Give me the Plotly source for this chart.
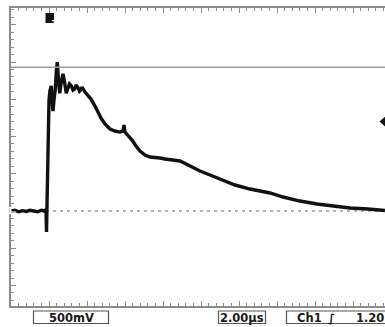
import plotly.graph_objects as go

# Captured waveform: time in microseconds (trigger at 0), amplitude in volts
time_us = [
    -2.0, -1.8, -1.6, -1.4, -1.2, -1.0, -0.8, -0.6, -0.4, -0.25, -0.16,
    -0.13, -0.105, -0.053, 0.0, 0.053, 0.121, 0.158, 0.21, 0.263, 0.332,
    0.384, 0.437, 0.5, 0.563, 0.647, 0.737, 0.826, 0.91, 1.0, 1.079, 1.174,
    1.263, 1.353, 1.421, 1.526, 1.605, 1.7, 1.737, 1.895, 2.053, 2.211, 2.421,
    2.579, 2.737, 2.947, 3.211, 3.474, 3.737, 3.895, 3.947, 4.0, 4.158, 4.368,
    4.579, 4.789, 5.053, 5.316, 5.842, 6.105, 6.895, 7.42, 7.947, 8.474, 8.895,
    9.263, 9.79, 10.58, 11.63, 12.32, 13.21, 14.1, 15.05, 15.84, 16.79, 17.68,
]
volts = [
    0.0, 0.01, -0.01, 0.005, -0.005, 0.01, 0.0, -0.01, 0.01, 0.0, 0.02,
    -0.28, 0.08, 0.82, 1.49, 1.62, 1.68, 1.49, 1.34, 1.49, 1.64,
    1.87, 2.0, 1.76, 1.58, 1.73, 1.84, 1.72, 1.58, 1.65, 1.705, 1.68,
    1.624, 1.64, 1.691, 1.655, 1.611, 1.64, 1.664, 1.597, 1.557, 1.503, 1.409,
    1.329, 1.248, 1.168, 1.101, 1.074, 1.06, 1.074, 1.154, 1.06, 1.02, 0.953,
    0.872, 0.805, 0.752, 0.725, 0.711, 0.698, 0.671, 0.604, 0.537, 0.483, 0.443,
    0.403, 0.349, 0.295, 0.242, 0.188, 0.134, 0.094, 0.067, 0.04, 0.027, 0.007,
]

# Scope settings
volts_per_div = 0.5
time_per_div = 2.0
cursor_level = 1.93
trigger_level = 1.20
readout_volts = "500mV"
readout_time = "2.00µs"
readout_channel = "Ch1"
readout_slope = "∫"
readout_trigger = "1.20 V"

W, H = 385, 327
L, R, T, B = 11, 0, 8, 21
PW, PH = W - L - R, H - T - B

x_range = [-2.0, -2.0 + PW / 19.0]
y_range = [-1.275, 2.725]


def px(x):
    return (x - L) / PW


def py(y):
    return (H - B - y) / PH


fig = go.Figure()

fig.add_trace(go.Scatter(
    x=time_us, y=volts, mode="lines",
    line=dict(color="#111111", width=3.4),
    hoverinfo="skip", showlegend=False,
))

gray = "#8c8c8c"
# Cursor line and dotted ground reference
fig.add_hline(y=cursor_level, line=dict(color="#9a9a9a", width=1.5))
fig.add_hline(y=0, line=dict(color="#9a9a9a", width=1.5, dash="3px,4px"), layer="below")

shapes = []
# Ground marker on the left edge
shapes.append(dict(type="rect", xref="paper", yref="y",
                   x0=px(0), x1=px(11), y0=-0.085, y1=0.085,
                   fillcolor="#111111", line=dict(width=0)))
# Trigger position marker at the top
shapes.append(dict(type="path", xref="paper", yref="paper",
                   path=f"M {px(45)} {py(7.5)} L {px(54.5)} {py(7.5)} L {px(49.7)} {py(12)} Z",
                   fillcolor="#111111", line=dict(width=0)))
shapes.append(dict(type="rect", xref="paper", yref="paper",
                   x0=px(45.5), x1=px(54), y0=py(23), y1=py(13),
                   fillcolor="#111111", line=dict(width=0)))
# Trigger level arrow on the right edge
shapes.append(dict(type="path", xref="paper", yref="y",
                   path=f"M {px(379.5)} {trigger_level} L {px(385)} {trigger_level + 0.065} L {px(385)} {trigger_level - 0.065} Z",
                   fillcolor="#111111", line=dict(width=0)))
# Readout boxes
for x0, x1 in [(33.5, 108.5), (218.5, 265.5), (286.5, 392)]:
    shapes.append(dict(type="rect", xref="paper", yref="paper",
                       x0=px(x0), x1=px(x1), y0=py(323.5), y1=py(311),
                       fillcolor="rgba(0,0,0,0)", line=dict(color="#555555", width=1.2)))
fig.update_layout(shapes=shapes)

font = dict(family="DejaVu Sans", size=11.5, color="#1a1a1a", weight="bold")
ann = [
    dict(x=px(71), y=py(317.5), text=readout_volts, xanchor="center"),
    dict(x=px(242), y=py(317.5), text=readout_time, xanchor="center"),
    dict(x=px(295), y=py(317.5), text=readout_channel, xanchor="left"),
    dict(x=px(331), y=py(317.5), text=readout_slope, xanchor="center"),
    dict(x=px(354), y=py(317.5), text=readout_trigger, xanchor="left"),
]
for a in ann:
    a.update(xref="paper", yref="paper", showarrow=False, font=font, yanchor="middle")
ann.append(dict(xref="paper", yref="y", x=px(4.5), y=0, text="<b>1</b>", showarrow=False,
                font=dict(family="DejaVu Sans", size=9, color="white")))
ann.append(dict(xref="paper", yref="paper", x=px(49.7), y=py(18), text="<b>T</b>", showarrow=False,
                font=dict(family="DejaVu Sans", size=8, color="white")))
fig.update_layout(annotations=ann)

axis_common = dict(
    showgrid=False, zeroline=False, showticklabels=False,
    showline=True, linecolor=gray, linewidth=1.5,
    ticks="inside", tickcolor=gray, ticklen=5, tickwidth=1,
    fixedrange=True,
)
fig.update_xaxes(range=x_range, tick0=-2.0, dtick=time_per_div, mirror="ticks",
                 minor=dict(ticks="inside", ticklen=3, tickcolor=gray, dtick=time_per_div / 5, tick0=-2.0),
                 **axis_common)
fig.update_yaxes(range=y_range, tick0=0, dtick=volts_per_div, mirror=False,
                 minor=dict(ticks="inside", ticklen=3, tickcolor=gray, dtick=volts_per_div / 5, tick0=0),
                 **axis_common)

fig.update_layout(
    width=W, height=H,
    margin=dict(l=L, r=R, t=T, b=B, pad=0),
    paper_bgcolor="white", plot_bgcolor="white",
    showlegend=False,
)

fig.write_html("out.html", config={"displayModeBar": False})
